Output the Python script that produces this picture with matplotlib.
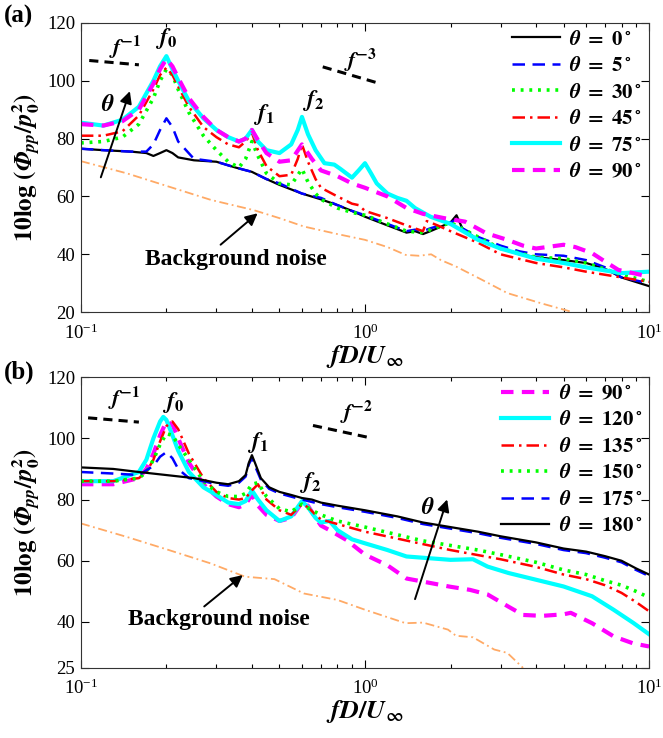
import matplotlib
matplotlib.use("Agg")
import matplotlib.pyplot as plt
from matplotlib.ticker import FixedLocator, LogLocator, NullFormatter

plt.rcParams['font.family'] = ['Liberation Serif', 'DejaVu Serif']
plt.rcParams['mathtext.fontset'] = 'stix'

# ---------------- Panel (a) data ----------------
a0_x = [0.1, 0.12, 0.15, 0.17, 0.18, 0.19, 0.2, 0.21, 0.22, 0.25, 0.3, 0.35, 0.4, 0.45, 0.5, 0.6, 0.7, 0.8, 0.9, 1.0,
        1.2, 1.4, 1.5, 1.6, 1.7, 2.0, 2.1, 2.2, 2.5, 3.0, 3.5, 4.0, 5.0, 6.0, 7.0, 8.0, 10.0]
a0_y = [76.5, 76, 75.5, 75, 74, 75, 76, 75, 73.5, 72.5, 72, 70, 68.5, 66, 64, 61, 59, 57, 55, 53,
        50, 47.5, 48, 47, 48, 51, 53.5, 49, 45, 42, 40, 39, 38, 37, 35, 32, 29]
a5_y = [76.5, 76, 75.5, 75.5, 78, 83, 87, 84, 79, 73, 72, 70, 68.5, 66, 64.5, 61, 59.5, 57, 55, 53.5,
        50.5, 48, 48.5, 48, 49, 51, 52, 49, 46, 43, 41, 40, 39.5, 38, 35.5, 32, 30]

a30_x = [0.1, 0.12, 0.14, 0.16, 0.18, 0.19, 0.2, 0.21, 0.22, 0.24, 0.27, 0.3, 0.33, 0.36, 0.38, 0.4, 0.42, 0.45,
         0.5, 0.55, 0.6, 0.63, 0.67, 0.7, 0.8, 0.9, 1.0, 1.2, 1.4, 1.6, 1.7, 2.0, 2.5, 3.0, 4.0, 5.0, 6.0, 8.0, 10.0]
a30_y = [78.5, 79, 80.5, 85, 94, 100, 104, 102, 97, 89, 81, 76, 72, 70, 73, 79, 74, 68,
         64.5, 64, 69.5, 65, 61, 59, 56, 54.5, 53.5, 50.5, 48, 47.5, 48.5, 51, 46, 42, 39, 38.5, 37, 33, 30.5]

a45_x = [0.1, 0.12, 0.14, 0.16, 0.18, 0.19, 0.2, 0.21, 0.22, 0.24, 0.27, 0.3, 0.33, 0.36, 0.38, 0.4, 0.42, 0.45,
         0.5, 0.55, 0.58, 0.6, 0.63, 0.67, 0.7, 0.8, 0.9, 0.95, 1.0, 1.2, 1.4, 1.6, 1.65, 1.8, 2.0, 2.5, 3.0,
         4.0, 5.0, 6.0, 8.0, 10.0]
a45_y = [81, 81, 82.5, 88, 97, 102, 104.5, 102, 98, 91, 84, 80.5, 78, 77, 79, 82, 76, 70.5,
         67, 67.5, 73, 78, 72, 66, 63, 60, 57.5, 57, 55, 52.5, 50, 48, 51.5, 50, 48, 44, 40,
         37, 35.5, 34, 32, 30.5]

a75_x = [0.1, 0.12, 0.14, 0.16, 0.18, 0.19, 0.2, 0.21, 0.22, 0.24, 0.27, 0.3, 0.33, 0.36, 0.38, 0.4, 0.42, 0.45,
         0.5, 0.55, 0.58, 0.6, 0.63, 0.67, 0.72, 0.78, 0.82, 0.9, 0.95, 1.0, 1.05, 1.1, 1.2, 1.3, 1.4, 1.5,
         1.7, 2.0, 2.5, 3.0, 4.0, 5.0, 6.0, 8.0, 10.0]
a75_y = [85.5, 84.5, 86.5, 91, 100, 105, 108.5, 104, 100, 93, 87, 83, 80.5, 79, 80, 83, 79, 76,
         75, 78, 83, 87.5, 81.5, 76, 71.5, 71, 69.5, 66.5, 69, 71.5, 68, 64.5, 61, 59.5, 58.5, 56,
         53, 50.5, 45, 42, 38.5, 37, 35.5, 33.5, 34]

a90_x = [0.1, 0.12, 0.14, 0.16, 0.18, 0.19, 0.2, 0.21, 0.22, 0.24, 0.27, 0.3, 0.33, 0.36, 0.38, 0.4, 0.42, 0.45,
         0.5, 0.55, 0.6, 0.65, 0.7, 0.8, 0.9, 1.0, 1.2, 1.4, 1.6, 1.9, 2.25, 2.67, 3.17, 3.6, 4.0, 5.0, 5.5,
         6.3, 7.0, 7.8, 10.0]
a90_y = [85, 84.5, 86, 90, 99, 104, 107.5, 105, 101, 94, 87.5, 83, 80.5, 79, 80, 83, 79.5, 75,
         72, 72.5, 78, 73, 69, 67, 64.5, 63, 60, 56, 54, 52.5, 51.3, 47.3, 45, 43, 42, 43.3, 42.5,
         40.4, 37.5, 34.6, 32.3]

abg_x = [0.1, 0.145, 0.204, 0.287, 0.405, 0.5, 0.61, 0.8, 1.0, 1.2, 1.39, 1.55, 1.71, 1.85, 2.09, 2.58,
         3.17, 4.16, 5.3]
abg_y = [72.2, 68, 63.4, 58.8, 55.3, 52.5, 49.6, 47, 45, 42.5, 39.8, 39.5, 40, 38, 35.8, 31.2,
         26.6, 23.1, 20.2]

# ---------------- Panel (b) data ----------------
b180_x = [0.1, 0.13, 0.16, 0.2, 0.25, 0.3, 0.33, 0.36, 0.38, 0.39, 0.4, 0.41, 0.43, 0.46, 0.5, 0.55, 0.6, 0.65,
          0.7, 0.8, 1.0, 1.3, 1.6, 2.0, 2.5, 3.0, 4.0, 5.0, 6.0, 7.0, 8.0, 9.0, 10.0]
b180_y = [90.5, 90, 89, 88, 87, 85.5, 85, 86, 88, 92, 94.5, 92, 87, 84, 82.5, 81.5, 80.5, 80,
          79, 78, 76.5, 74.5, 72.5, 71, 69.5, 68, 66, 64, 63, 61.5, 60, 57.5, 55.5]

b175_x = [0.1, 0.13, 0.16, 0.18, 0.19, 0.2, 0.21, 0.22, 0.24, 0.27, 0.3, 0.33, 0.36, 0.38, 0.39, 0.4, 0.41,
          0.43, 0.46, 0.5, 0.6, 0.7, 0.8, 1.0, 1.3, 1.6, 2.0, 2.5, 3.0, 4.0, 5.0, 6.0, 7.0, 8.0, 9.0, 10.0]
b175_y = [89, 88.5, 88, 91, 94, 95.5, 93.5, 90, 87, 86, 85, 84.5, 85.5, 87.5, 91.5, 93.5, 91,
          86.5, 83.5, 82, 80, 78.5, 77.5, 76, 74, 72, 70.5, 69, 67.5, 65.5, 63.5, 62.5, 61, 59.5, 57, 55]

b150_x = [0.1, 0.13, 0.16, 0.17, 0.18, 0.19, 0.2, 0.21, 0.22, 0.24, 0.27, 0.3, 0.33, 0.36, 0.38, 0.4, 0.42,
          0.45, 0.5, 0.55, 0.6, 0.65, 0.7, 0.8, 1.0, 1.3, 1.6, 2.0, 2.5, 3.0, 4.0, 5.0, 6.0, 7.0, 8.0, 9.0, 10.0]
b150_y = [86, 86, 87, 89, 93, 98, 101.5, 101, 98, 93, 86, 82.5, 81, 81, 82, 85, 85.5,
          81, 77, 76, 78.5, 76.5, 75, 73, 71, 68.5, 66.5, 65, 63.5, 62, 59.5, 57, 55.5, 53.5, 52, 50, 48]

b135_x = [0.1, 0.13, 0.16, 0.17, 0.18, 0.19, 0.2, 0.21, 0.22, 0.24, 0.27, 0.3, 0.33, 0.36, 0.38, 0.4, 0.42,
          0.45, 0.5, 0.55, 0.6, 0.63, 0.67, 0.7, 0.8, 1.0, 1.5, 2.0, 3.0, 4.0, 5.0, 6.0, 7.0, 8.0, 9.0, 10.0]
b135_y = [86, 86, 87, 89, 93, 99, 104, 105.5, 103, 95, 87, 82.5, 80.5, 80, 80.5, 83, 85,
          80, 76.5, 75, 78.5, 77.5, 75, 73.5, 72, 69.5, 66, 63.5, 60.5, 58, 55.5, 54, 52, 49.5, 46.5, 43.5]

b120_x = [0.1, 0.13, 0.16, 0.17, 0.18, 0.19, 0.195, 0.2, 0.21, 0.22, 0.24, 0.27, 0.3, 0.33, 0.36, 0.38, 0.4,
          0.42, 0.45, 0.5, 0.55, 0.6, 0.63, 0.67, 0.7, 0.75, 0.8, 0.9, 1.0, 1.2, 1.4, 2.0, 2.4, 2.7, 3.2,
          4.0, 5.0, 6.3, 7.5, 8.8, 10.0]
b120_y = [86, 86, 89, 93, 100, 105.5, 107, 106, 101, 96, 89, 84, 81.5, 79, 78.5, 79.5, 83,
          80, 76.5, 73, 74.5, 79.5, 77.5, 74, 72.5, 73, 70, 67, 65.7, 63.5, 61.4, 60.3, 60.5, 58.1, 56,
          53.8, 51.6, 48.4, 44, 39.7, 36]

b90_x = [0.1, 0.13, 0.16, 0.17, 0.18, 0.19, 0.2, 0.21, 0.22, 0.24, 0.27, 0.3, 0.33, 0.36, 0.38, 0.4, 0.42,
         0.45, 0.5, 0.55, 0.6, 0.63, 0.67, 0.7, 0.75, 0.86, 1.0, 1.2, 1.4, 2.0, 2.34, 2.7, 3.2, 3.6, 4.2,
         5.0, 5.3, 6.3, 7.5, 8.8, 10.0]
b90_y = [85, 85, 87, 90, 95, 101, 105.5, 104.5, 100, 92, 85, 81, 78.5, 77.5, 78.5, 81.5, 78,
         75, 73, 74, 79, 78, 74, 71.5, 70, 66.8, 62, 58.5, 54.2, 51.5, 50.5, 49, 45, 42.3, 42,
         42.5, 43, 39.6, 35.3, 33, 32]

bbg_x = [0.1, 0.145, 0.204, 0.287, 0.378, 0.48, 0.61, 0.8, 1.0, 1.39, 1.6, 1.96, 2.09, 2.4, 2.85, 3.17, 3.6]
bbg_y = [72.2, 67.8, 63.5, 59.1, 54.8, 54, 49.3, 47.2, 44, 39.6, 39.8, 37.5, 35.5, 35, 31, 29.9, 25]

a_labels = ['0', '5', '30', '45', '75', '90']
b_labels = ['90', '120', '135', '150', '175', '180']
a_yticks = [20, 40, 60, 80, 100, 120]
b_yticks = [25, 40, 60, 80, 100, 120]

# ---------------- styles ----------------
BLUE, GREEN, RED, CYAN, MAG, BG = '#0000ff', '#00ff00', '#ff0000', '#00ffff', '#ff00ff', '#ffaa66'
st_black = dict(color='k', lw=1.6, ls='-')
st_blue = dict(color=BLUE, lw=1.8, ls=(0, (5, 3)))
st_green = dict(color=GREEN, lw=2.6, ls=(0, (0.8, 1.6)))
st_red = dict(color=RED, lw=1.8, ls=(0, (5, 2, 1, 2)))
st_cyan = dict(color=CYAN, lw=3.0, ls='-')
st_mag = dict(color=MAG, lw=3.0, ls=(0, (3, 2)))
st_bg = dict(color=BG, lw=1.3, ls=(0, (5, 2, 1, 2)))

fig = plt.figure(figsize=(6.63, 7.38), dpi=100)
axa = fig.add_axes([0.122, 0.577, 0.857, 0.392])
axb = fig.add_axes([0.122, 0.095, 0.857, 0.394])

th = r'$\mathbfit{\theta}\ \mathbf{=\ %s}\mathbf{^\circ}$'

la = []
la.append(axa.plot(a0_x, a0_y, **st_black)[0])
la.append(axa.plot(a0_x, a5_y, **st_blue)[0])
la.append(axa.plot(a30_x, a30_y, **st_green)[0])
la.append(axa.plot(a45_x, a45_y, **st_red)[0])
la.append(axa.plot(a75_x, a75_y, **st_cyan)[0])
la.append(axa.plot(a90_x, a90_y, **st_mag)[0])
axa.plot(abg_x, abg_y, **st_bg)

lb = []
lb.append(axb.plot(b90_x, b90_y, **st_mag)[0])
lb.append(axb.plot(b120_x, b120_y, **st_cyan)[0])
lb.append(axb.plot(b135_x, b135_y, **st_red)[0])
lb.append(axb.plot(b150_x, b150_y, **st_green)[0])
lb.append(axb.plot(b175_x, b175_y, **st_blue)[0])
lb.append(axb.plot(b180_x, b180_y, **st_black)[0])
axb.plot(bbg_x, bbg_y, **st_bg)

for ax, yt in ((axa, a_yticks), (axb, b_yticks)):
    ax.set_xscale('log')
    ax.set_xlim(0.1, 10)
    ax.set_ylim(yt[0], yt[-1])
    ax.yaxis.set_major_locator(FixedLocator(yt))
    ax.xaxis.set_minor_locator(LogLocator(base=10, subs=range(2, 10)))
    ax.xaxis.set_minor_formatter(NullFormatter())
    ax.tick_params(which='both', direction='in', top=True, right=True, labelsize=13.5)
    ax.tick_params(which='major', length=6, width=0.8)
    ax.tick_params(axis='x', which='major', pad=8)
    ax.tick_params(axis='y', which='major', pad=4)
    ax.tick_params(which='minor', length=3, width=0.8)
    for s in ax.spines.values():
        s.set_linewidth(0.8)
        s.set_color('#333333')
    ax.set_xlabel(r'$\mathbfit{fD}\mathbf{/}\mathbfit{U}_{\mathbf{\infty}}$', fontsize=19, labelpad=0)
    ax.set_ylabel(r'$\mathbf{10log\ (}\mathbfit{\Phi}_{\mathbfit{pp}}\mathbf{/}\mathbfit{p}_{\mathbf{0}}^{\mathbf{2}}\mathbf{)}$',
                  fontsize=18, labelpad=3)

leg_kw = dict(loc='upper right', frameon=False, fontsize=15, handlelength=2.3, handletextpad=0.45,
              labelspacing=0.33, borderaxespad=0.05, borderpad=0.3)
axa.legend(la, [th % v for v in a_labels], **leg_kw)
axb.legend(lb, [th % v for v in b_labels], **leg_kw)

# annotations panel a
axa.plot([0.107, 0.16], [107, 105.5], color='k', lw=2.2, ls=(0, (3, 2)))
axa.text(0.143, 106.8, r'$\mathbfit{f}^{\mathbf{-1}}$', fontsize=16, ha='center', va='bottom')
axa.text(0.2, 110.2, r'$\mathbfit{f}_{\mathbf{0}}$', fontsize=17, ha='center', va='bottom')
axa.plot([0.71, 1.13], [104.8, 99], color='k', lw=2.2, ls=(0, (3, 2)))
axa.text(0.96, 102.5, r'$\mathbfit{f}^{\mathbf{-3}}$', fontsize=16, ha='center', va='bottom')
axa.text(0.44, 84, r'$\mathbfit{f}_{\mathbf{1}}$', fontsize=17, ha='center', va='bottom')
axa.text(0.655, 89, r'$\mathbfit{f}_{\mathbf{2}}$', fontsize=17, ha='center', va='bottom')
axa.annotate('', xy=(0.1498, 97.3), xytext=(0.1167, 65.7),
             arrowprops=dict(arrowstyle='-|>', color='k', lw=1.4, mutation_scale=18))
axa.text(0.124, 91.6, r'$\mathbfit{\theta}$', fontsize=17, ha='center', va='center')
axa.annotate('', xy=(0.426, 54.8), xytext=(0.305, 42.7),
             arrowprops=dict(arrowstyle='-|>', color='k', lw=1.4, mutation_scale=18))
axa.text(0.352, 38.3, 'Background noise', fontsize=17, fontweight='bold', ha='center', va='center')

# annotations panel b
axb.plot([0.106, 0.16], [106.7, 105.3], color='k', lw=2.2, ls=(0, (3, 2)))
axb.text(0.142, 108.5, r'$\mathbfit{f}^{\mathbf{-1}}$', fontsize=16, ha='center', va='bottom')
axb.text(0.211, 107.5, r'$\mathbfit{f}_{\mathbf{0}}$', fontsize=17, ha='center', va='bottom')
axb.plot([0.656, 1.04], [104.2, 100.2], color='k', lw=2.2, ls=(0, (3, 2)))
axb.text(0.93, 104, r'$\mathbfit{f}^{\mathbf{-2}}$', fontsize=16, ha='center', va='bottom')
axb.text(0.42, 94.5, r'$\mathbfit{f}_{\mathbf{1}}$', fontsize=17, ha='center', va='bottom')
axb.text(0.64, 81.5, r'$\mathbfit{f}_{\mathbf{2}}$', fontsize=17, ha='center', va='bottom')
axb.annotate('', xy=(1.96, 80.9), xytext=(1.49, 46.6),
             arrowprops=dict(arrowstyle='-|>', color='k', lw=1.4, mutation_scale=18))
axb.text(1.67, 77, r'$\mathbfit{\theta}$', fontsize=17, ha='center', va='center')
axb.annotate('', xy=(0.378, 55.9), xytext=(0.267, 44.5),
             arrowprops=dict(arrowstyle='-|>', color='k', lw=1.4, mutation_scale=18))
axb.text(0.306, 40.7, 'Background noise', fontsize=17, fontweight='bold', ha='center', va='center')

fig.text(0.006, 0.994, '(a)', fontsize=18, fontweight='bold', va='top', ha='left')
fig.text(0.006, 0.511, '(b)', fontsize=18, fontweight='bold', va='top', ha='left')

fig.savefig('out.png', dpi=100)
